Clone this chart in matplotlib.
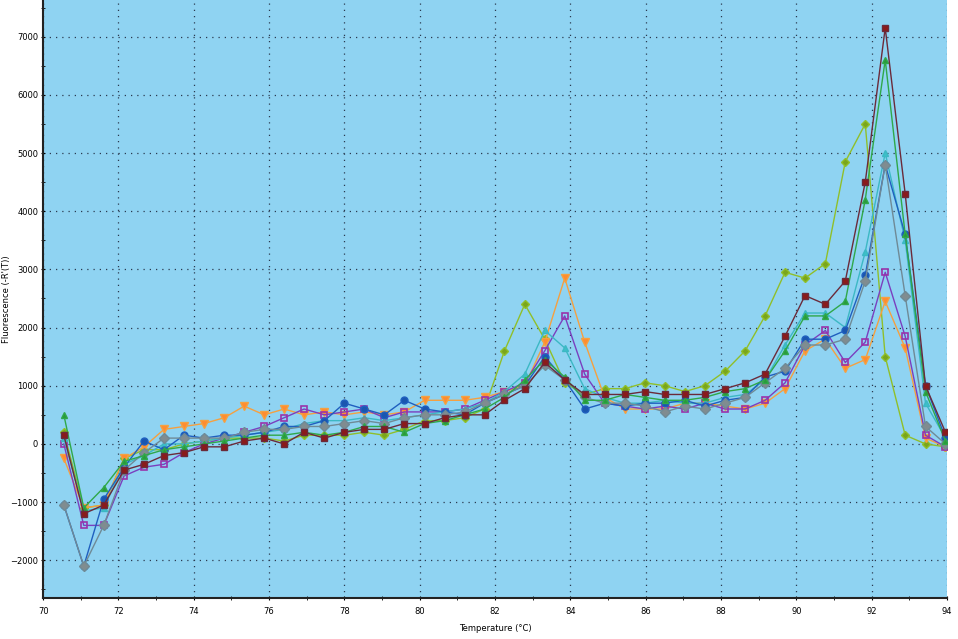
import numpy as np
from matplotlib import pyplot as plt
from matplotlib.ticker import MultipleLocator

# melt curve temperatures (deg C)
temps = [70.55, 71.08, 71.61, 72.15, 72.68, 73.21, 73.74, 74.27, 74.81, 75.34,
         75.87, 76.40, 76.93, 77.47, 78.00, 78.53, 79.06, 79.59, 80.13, 80.66,
         81.19, 81.72, 82.25, 82.79, 83.32, 83.85, 84.38, 84.91, 85.45, 85.98,
         86.51, 87.04, 87.57, 88.11, 88.64, 89.17, 89.70, 90.23, 90.77, 91.30,
         91.83, 92.36, 92.89, 93.43, 93.96]

maroon = [150, -1200, -1050, -450, -350, -200, -150, -50, -50, 50,
          100, 0, 200, 100, 200, 250, 250, 350, 350, 450,
          500, 500, 750, 950, 1400, 1100, 850, 850, 850, 900,
          850, 850, 850, 950, 1050, 1200, 1850, 2550, 2400, 2800,
          4500, 7150, 4300, 1000, 200]
green = [500, -1100, -750, -300, -200, -100, -50, 0, 50, 100,
         150, 150, 200, 150, 200, 300, 300, 200, 350, 400,
         500, 600, 800, 1100, 1450, 1150, 750, 750, 850, 800,
         750, 750, 800, 900, 950, 1100, 1600, 2200, 2200, 2450,
         4200, 6600, 3600, 900, 50]
olive = [200, -1100, -1050, -250, -100, -100, 0, 50, 100, 100,
         100, 50, 150, 150, 150, 200, 150, 250, 400, 400,
         450, 600, 1600, 2400, 1800, 1050, 850, 950, 950, 1050,
         1000, 900, 1000, 1250, 1600, 2200, 2950, 2850, 3100, 4850,
         5500, 1500, 150, 0, -50]
cyan = [100, -1150, -1100, -350, -200, 0, 0, 50, 100, 150,
        200, 250, 350, 400, 400, 450, 400, 450, 500, 550,
        600, 700, 900, 1200, 1950, 1650, 950, 800, 700, 700,
        750, 700, 700, 800, 850, 1100, 1700, 2250, 2250, 2000,
        3300, 5000, 3500, 700, 100]
blue = [-1050, -2100, -950, -400, 50, -100, 150, 100, 150, 150,
        200, 300, 300, 400, 700, 600, 500, 750, 600, 550,
        500, 700, 850, 1000, 1500, 1100, 600, 700, 650, 700,
        700, 750, 650, 750, 800, 1150, 1250, 1800, 1800, 1950,
        2900, 4800, 3600, 1000, 100]
gray = [-1050, -2100, -1400, -450, -150, 100, 100, 100, 100, 200,
        250, 250, 300, 300, 350, 400, 350, 450, 500, 500,
        550, 700, 850, 1000, 1350, 1100, 800, 700, 700, 650,
        550, 650, 600, 700, 800, 1050, 1300, 1700, 1700, 1800,
        2800, 4800, 2550, 300, 0]
purple = [0, -1400, -1400, -550, -400, -350, -150, 0, 100, 200,
          300, 450, 600, 500, 550, 600, 450, 550, 550, 550,
          600, 750, 900, 1050, 1600, 2200, 1200, 700, 650, 600,
          650, 600, 700, 600, 600, 750, 1050, 1700, 1950, 1400,
          1750, 2950, 1850, 150, -50]
orange = [-250, -1100, -1050, -250, -50, 250, 300, 350, 450, 650,
          500, 600, 500, 550, 500, 550, 500, 550, 750, 750,
          750, 800, 900, 1000, 1750, 2850, 1750, 800, 600, 600,
          600, 700, 700, 650, 600, 700, 950, 1600, 1800, 1300,
          1450, 2450, 1650, 100, -50]

fig = plt.figure(figsize=(9.58, 6.39), dpi=100)
ax = fig.add_axes([0.045, 0.064, 0.9435, 0.936])
ax.set_facecolor('#8fd3f2')

#--------------series------------------
ax.plot(temps, olive, color='#8fbf2a', marker='D', ms=4, mfc='#7aa51c', lw=1)
ax.plot(temps, orange, color='#f5a040', marker='v', ms=6, mfc='#ff8c30', lw=1)
ax.plot(temps, purple, color='#7a3fbf', marker='s', ms=5, mfc='none', mec='#9933aa', mew=1.2, lw=1)
ax.plot(temps, cyan, color='#3cb8c4', marker='^', ms=5, mfc='#3cc0c8', lw=1)
ax.plot(temps, blue, color='#1f5fbf', marker='o', ms=5, mfc='#1a56b0', lw=1)
ax.plot(temps, gray, color='#6f8a96', marker='D', ms=5, mfc='#808c90', lw=1)
ax.plot(temps, green, color='#2fa84a', marker='^', ms=5, mfc='#2a9a3a', lw=1)
ax.plot(temps, maroon, color='#6b2a3a', marker='s', ms=5, mfc='#8b1a1a', lw=1)

#--------------axes------------------
ax.set_xlim(70, 94)
ax.set_ylim(-2650, 7630)
ax.xaxis.set_major_locator(MultipleLocator(2))
ax.xaxis.set_minor_locator(MultipleLocator(1))
ax.yaxis.set_major_locator(MultipleLocator(1000))
ax.yaxis.set_minor_locator(MultipleLocator(500))
ax.grid(True, which='major', color='#2a3a50', linestyle=(0, (1, 4)), linewidth=0.9)
ax.tick_params(axis='both', which='major', labelsize=6, length=3, direction='inout', pad=2)
ax.tick_params(axis='x', which='major', pad=5)
ax.tick_params(axis='both', which='minor', length=3, direction='inout')
for side in ['top', 'right']:
    ax.spines[side].set_visible(False)
for side in ['left', 'bottom']:
    ax.spines[side].set_linewidth(1.5)
    ax.spines[side].set_color('#222222')
ax.set_xlabel('Temperature (°C)', fontsize=6, labelpad=6)
ax.set_ylabel("Fluorescence (-R'(T))", fontsize=6)
ax.yaxis.set_label_coords(-0.036, 0.5)

plt.savefig('out.png', dpi=100)
